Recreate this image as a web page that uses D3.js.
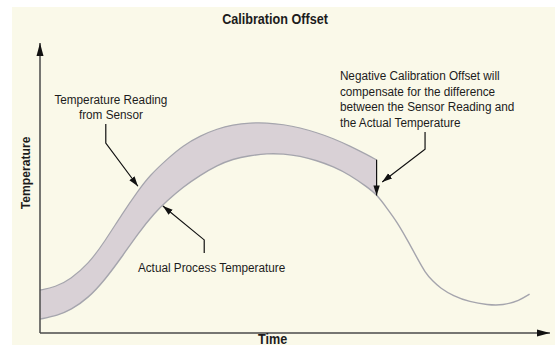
<!DOCTYPE html>
<html>
<head>
<meta charset="utf-8">
<script src="https://cdn.jsdelivr.net/npm/d3@7"></script>
<style>
  html, body { margin: 0; padding: 0; background: #ffffff; }
  svg { display: block; }
  text { font-family: "Liberation Sans", Arial, sans-serif; fill: #1c1c1c; }
</style>
</head>
<body>
<svg id="chart" width="555" height="345"></svg>
<script>
// Sensor reading (upper edge of the offset band)
const sensorTime = [0, 3, 6, 9.5, 12.75, 16, 19.25, 21.5, 25, 28, 31.5, 34.75, 37.75, 41.25, 44.5, 47.75, 51, 54.25, 57.5, 60.75, 64, 66];
const sensorTemp = [14.8, 15.8, 18.6, 23.8, 31.7, 40.8, 49.1, 54.3, 60.1, 64.6, 68.1, 70.4, 71.8, 72.5, 72.5, 71.9, 70.8, 69.1, 67.1, 64.5, 61.6, 59.7];

// Actual process temperature
const actualTime = [0, 3.5, 6, 9.5, 12.75, 16, 19.25, 22.5, 24.75, 28, 31.5, 34.75, 37.75, 41.25, 44.5, 47.75, 51, 54.25, 57.5, 60.75, 64, 66,
  68, 70, 72, 74, 75.5, 77, 78.5, 81, 84.25, 87.75, 90.75, 94, 96];
const actualTemp = [4.8, 6.1, 7.9, 12.1, 18.4, 26.1, 34.4, 41.5, 45.3, 50.3, 54.5, 57.8, 60.0, 61.2, 61.9, 61.8, 61.0, 59.5, 57.4, 54.5, 50.5, 47.8,
  43.1, 38.3, 32.2, 25.7, 20.9, 17.9, 15.5, 12.8, 10.7, 9.7, 9.5, 11.2, 13.4];

// Time at which the sensor trace (and the shaded offset) stops
const bandEnd = 66;

const titleText = "Calibration Offset";
const xLabel = "Time";
const yLabel = "Temperature";

// Callouts: text lines, text anchor point and leader path, all in (time, temperature)
const sensorNote = { lines: ["Temperature Reading", "from Sensor"], anchor: "middle", at: [13.9, 78.8],
  leader: [[12.9, 72.1], [12.9, 65.5], [19.2, 50.6]] };
const actualNote = { lines: ["Actual Process Temperature"], anchor: "start", at: [19.2, 21.0],
  leader: [[32.2, 27.6], [32.2, 32.1], [24.1, 43.8]] };
const offsetNote = { lines: ["Negative Calibration Offset will", "compensate for the difference",
  "between the Sensor Reading and", "the Actual Temperature"], anchor: "start", at: [58.8, 87.2],
  leader: [[75.5, 69.3], [75.5, 63.4], [67.1, 52.1]] };

const svg = d3.select("#chart");
const W = 555, H = 345;

// paper background
svg.append("rect").attr("x", 12).attr("y", 7).attr("width", W - 12).attr("height", H - 7)
  .attr("fill", "#faf9e9");

const x = d3.scaleLinear().domain([0, 100]).range([40, 550]);
const y = d3.scaleLinear().domain([0, 100]).range([333, 43]);

// arrowheads
const defs = svg.append("defs");
defs.append("marker").attr("id", "axisHead")
  .attr("markerUnits", "userSpaceOnUse").attr("markerWidth", 14).attr("markerHeight", 8)
  .attr("refX", 13).attr("refY", 4).attr("orient", "auto")
  .append("path").attr("d", "M0,0.5L13,4L0,7.5Z").attr("fill", "#111");
defs.append("marker").attr("id", "noteHead")
  .attr("markerUnits", "userSpaceOnUse").attr("markerWidth", 11).attr("markerHeight", 7)
  .attr("refX", 10).attr("refY", 3.5).attr("orient", "auto")
  .append("path").attr("d", "M0,0.3L10,3.5L0,6.7Z").attr("fill", "#111");

const sensorPts = sensorTime.map((t, i) => [t, sensorTemp[i]]);
const actualPts = actualTime.map((t, i) => [t, actualTemp[i]]);
const lowerPts = actualPts.filter(d => d[0] <= bandEnd);

// smooth B-spline through the sampled readings
const line = d3.line()
  .x(d => x(d[0])).y(d => y(d[1]))
  .curve(d3.curveBasis);

// offset band between sensor reading and actual temperature
const upperD = line(sensorPts);
const lowerD = line(lowerPts.slice().reverse());
svg.append("path")
  .attr("d", upperD + "L" + lowerD.slice(1) + "Z")
  .attr("fill", "#d9d1d6").attr("stroke", "none");

svg.append("path").attr("d", upperD)
  .attr("fill", "none").attr("stroke", "#a5a5ad").attr("stroke-width", 1.2);
svg.append("path").attr("d", line(actualPts))
  .attr("fill", "none").attr("stroke", "#a5a5ad").attr("stroke-width", 1.4);

// axes
svg.append("line")
  .attr("x1", x(0)).attr("y1", y(0)).attr("x2", x(0)).attr("y2", y(100))
  .attr("stroke", "#4a4a4a").attr("stroke-width", 1.5).attr("marker-end", "url(#axisHead)");
svg.append("line")
  .attr("x1", x(0)).attr("y1", y(0)).attr("x2", x(100)).attr("y2", y(0))
  .attr("stroke", "#4a4a4a").attr("stroke-width", 1.5).attr("marker-end", "url(#axisHead)");

// offset arrow at the end of the band
const endSensor = sensorPts[sensorPts.length - 1];
const endActual = lowerPts[lowerPts.length - 1];
svg.append("line")
  .attr("x1", x(endSensor[0])).attr("y1", y(endSensor[1]))
  .attr("x2", x(endActual[0])).attr("y2", y(endActual[1]) + 1)
  .attr("stroke", "#111").attr("stroke-width", 1.2).attr("marker-end", "url(#noteHead)");

// condense text to a narrow face
function condense(sel, f) {
  sel.each(function () {
    const len = this.getComputedTextLength();
    d3.select(this).attr("textLength", len * f).attr("lengthAdjust", "spacingAndGlyphs");
  });
}

// callouts
const leaderLine = d3.line().x(d => x(d[0])).y(d => y(d[1]));
[sensorNote, actualNote, offsetNote].forEach(n => {
  const lh = n === offsetNote ? 15.5 : 15;
  n.lines.forEach((s, i) => {
    svg.append("text")
      .attr("x", x(n.at[0])).attr("y", y(n.at[1]) + i * lh)
      .attr("text-anchor", n.anchor)
      .attr("font-size", 12.5)
      .text(s)
      .call(condense, 0.94);
  });
  svg.append("path").attr("d", leaderLine(n.leader))
    .attr("fill", "none").attr("stroke", "#111").attr("stroke-width", 1.2)
    .attr("marker-end", "url(#noteHead)");
});

// title and axis labels
svg.append("text").attr("x", 275).attr("y", 24).attr("text-anchor", "middle")
  .attr("font-size", 14).attr("font-weight", "bold").text(titleText).call(condense, 0.9);
svg.append("text").attr("x", x(45.6)).attr("y", y(0) + 11).attr("text-anchor", "middle")
  .attr("font-size", 14).attr("font-weight", "bold").text(xLabel).call(condense, 0.9);
svg.append("text")
  .attr("transform", `translate(${x(0) - 10},${y(55.2)}) rotate(-90)`)
  .attr("text-anchor", "middle")
  .attr("font-size", 13.5).attr("font-weight", "bold").text(yLabel).call(condense, 0.9);
</script>
</body>
</html>
